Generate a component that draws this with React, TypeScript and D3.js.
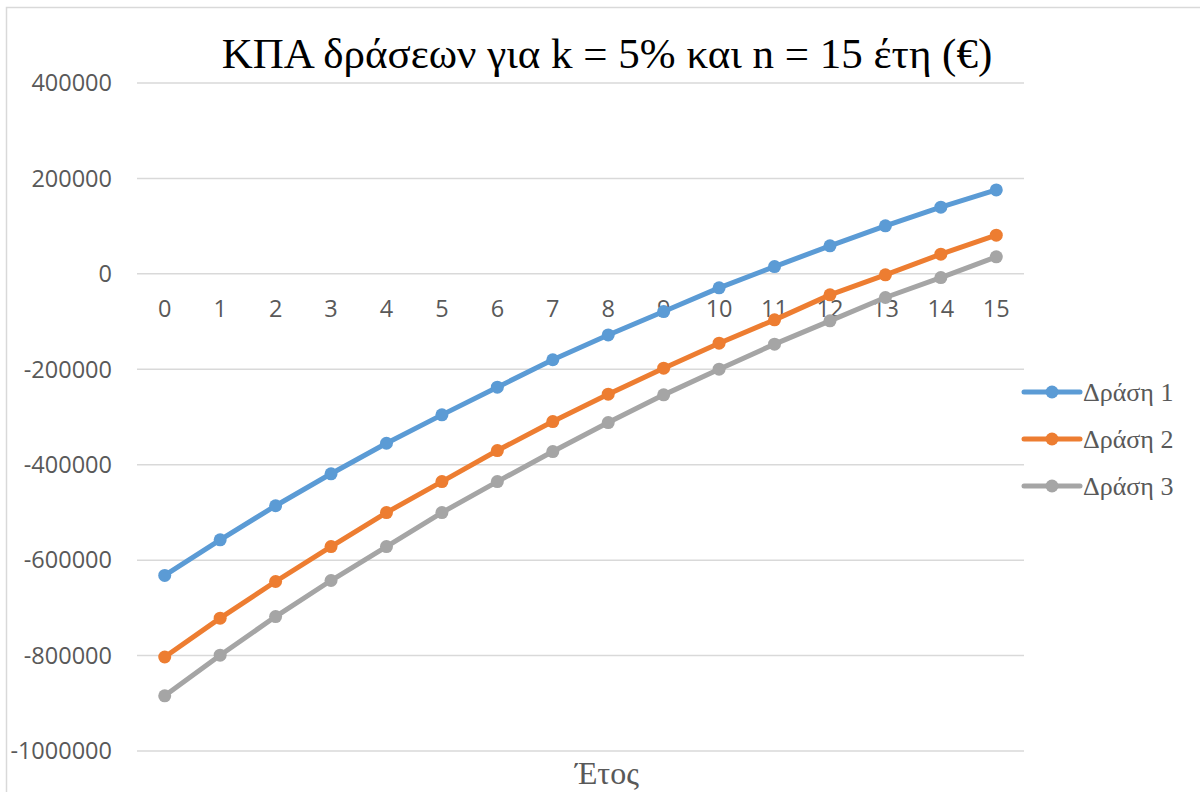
import React from 'react';
import * as d3 from 'd3';

const years = ['0', '1', '2', '3', '4', '5', '6', '7', '8', '9', '10', '11', '12', '13', '14', '15'];
const action1 = [-632000, -557500, -486000, -419000, -355000, -295500, -237500, -180000, -128000, -79000, -29300, 15300, 58700, 100600, 139800, 176000];
const action2 = [-803000, -721600, -644800, -571500, -500300, -435300, -370300, -309500, -252200, -197700, -145300, -96400, -44000, -2100, 41300, 81000];
const action3 = [-884400, -799200, -718200, -642700, -571500, -500300, -435300, -372400, -311600, -253600, -199800, -147300, -98500, -49600, -7700, 35600];
const seriesNames = ['Δράση 1', 'Δράση 2', 'Δράση 3'];
const yTicks = [400000, 200000, 0, -200000, -400000, -600000, -800000, -1000000];

const colors = ['#5B9BD5', '#ED7D31', '#A5A5A5'];
const W = 1200;
const H = 792;
const plot = { left: 137, right: 1024, top: 83, bottom: 751 };

export default function App() {
  const x = d3.scaleBand().domain(years).range([plot.left, plot.right]);
  const y = d3.scaleLinear().domain([-1000000, 400000]).range([plot.bottom, plot.top]);
  const cx = (d: string) => (x(d) || 0) + x.bandwidth() / 2;

  const series = [action1, action2, action3];
  const line = d3.line<number>()
    .x((_, i) => cx(years[i]))
    .y(d => y(d));

  const labelFont = '"Open Sans", sans-serif';
  const serif = '"Liberation Serif", "Times New Roman", serif';

  return (
    <svg width={W} height={H} style={{ position: 'absolute', left: 0, top: 0, background: '#fff' }}>
      <rect x={6.5} y={7.5} width={1300} height={900} fill="#fff" stroke="#d9d9d9" strokeWidth={1.5} />

      {/* title */}
      <text x={607} y={68} textAnchor="middle" fontFamily={serif} fontSize={43} fill="#000">
        ΚΠΑ δράσεων για k = 5% και n = 15 έτη (€)
      </text>

      {/* grid + y labels */}
      {yTicks.map(t => (
        <g key={t}>
          <line x1={plot.left} x2={plot.right} y1={y(t)} y2={y(t)} stroke="#d9d9d9" strokeWidth={1.5} />
          <text x={112} y={y(t)} dy="0.35em" textAnchor="end" fontFamily={labelFont} fontSize={23.5} fill="#595959">
            {t}
          </text>
        </g>
      ))}

      {/* category labels sit under the zero line */}
      {years.map(d => (
        <text key={d} x={cx(d)} y={y(0) + 35} dy="0.35em" textAnchor="middle" fontFamily={labelFont} fontSize={23.5} fill="#595959">
          {d}
        </text>
      ))}

      {/* series */}
      {series.map((vals, si) => (
        <g key={si}>
          <path d={line(vals) || ''} fill="none" stroke={colors[si]} strokeWidth={5} strokeLinejoin="round" strokeLinecap="round" />
          {vals.map((v, i) => (
            <circle key={i} cx={cx(years[i])} cy={y(v)} r={6.5} fill={colors[si]} />
          ))}
        </g>
      ))}

      {/* axis title */}
      <text x={607} y={784} textAnchor="middle" fontFamily={serif} fontSize={32} fill="#595959">Έτος</text>

      {/* legend */}
      {seriesNames.map((name, i) => {
        const ly = 392 + i * 47;
        return (
          <g key={name}>
            <line x1={1024} x2={1080} y1={ly} y2={ly} stroke={colors[i]} strokeWidth={5} strokeLinecap="round" />
            <circle cx={1052} cy={ly} r={6.5} fill={colors[i]} />
            <text x={1083} y={ly} dy="0.33em" fontFamily={serif} fontSize={26} fill="#595959">{name}</text>
          </g>
        );
      })}
    </svg>
  );
}
